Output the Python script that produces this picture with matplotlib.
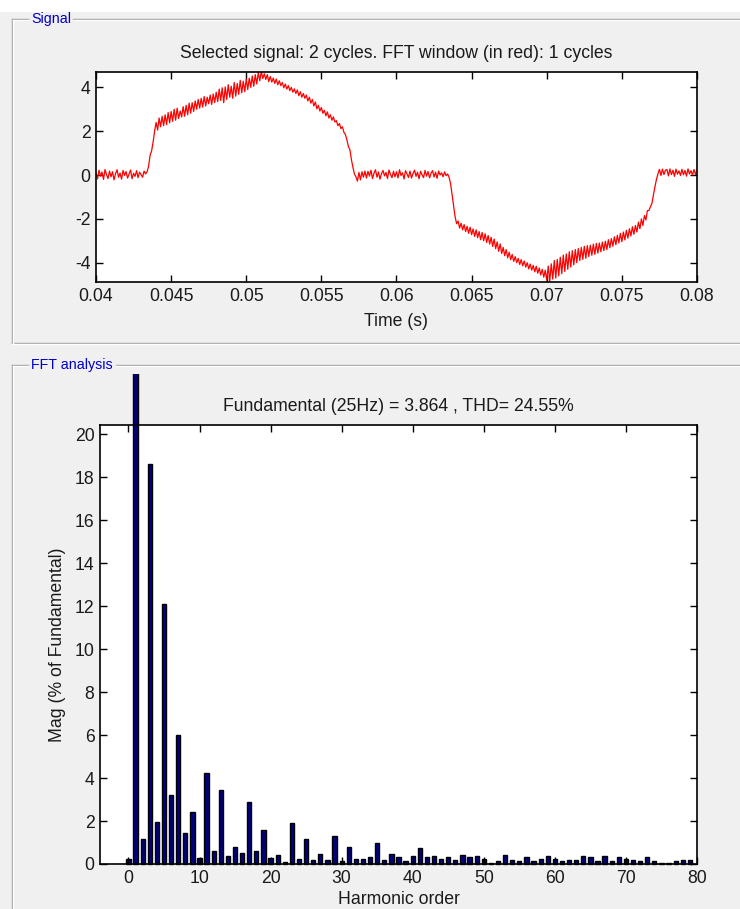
import matplotlib
matplotlib.use("Agg")
import matplotlib.pyplot as plt
import numpy as np
from matplotlib.lines import Line2D
from matplotlib.patches import Rectangle
from matplotlib.transforms import Bbox, TransformedBbox

plt.rcParams['font.family'] = ['Liberation Sans', 'DejaVu Sans']
plt.rcParams['axes.unicode_minus'] = False

# ---- data ----
# signal samples every 0.1 ms from 0.040 s to 0.080 s (one row = 2 ms)
t_start, t_step = 0.04, 0.0001
signal = [
    0.08, -0.18, 0.22, -0.05, 0.14, -0.20, 0.25, 0.02, -0.16, 0.18, -0.08, 0.15, -0.22, 0.06, 0.24, -0.10, 0.09, -0.19, 0.21, -0.02,
    0.16, -0.14, 0.04, 0.23, -0.17, 0.08, -0.06, 0.20, -0.12, 0.13, 0.02, -0.10, 0.18, 0.05, 0.15, 0.40, 0.90, 1.10, 1.50, 2.00,
    2.40, 2.05, 2.60, 2.20, 2.68, 2.25, 2.75, 2.30, 2.85, 2.38, 2.90, 2.45, 3.00, 2.50, 3.05, 2.58, 2.92, 2.65, 3.12, 2.68,
    3.18, 2.75, 3.28, 2.82, 3.30, 2.90, 3.38, 3.00, 3.45, 3.05, 3.50, 3.10, 3.58, 3.15, 3.55, 3.25, 3.65, 3.22, 3.70, 3.30,
    3.78, 3.35, 3.92, 3.40, 3.98, 3.30, 4.02, 3.45, 4.12, 3.55, 4.05, 3.50, 4.22, 3.60, 4.18, 3.68, 4.32, 3.75, 4.28, 3.80,
    4.38, 3.90, 4.42, 4.00, 4.52, 4.05, 4.58, 4.15, 4.68, 4.30, 4.72, 4.40, 4.62, 4.36, 4.58, 4.26, 4.50, 4.24, 4.42, 4.18,
    4.38, 4.12, 4.30, 4.08, 4.22, 3.98, 4.15, 3.92, 4.08, 3.85, 4.00, 3.78, 3.93, 3.72, 3.88, 3.62, 3.80, 3.55, 3.72, 3.50,
    3.65, 3.38, 3.55, 3.28, 3.45, 3.15, 3.33, 3.02, 3.18, 2.92, 3.08, 2.82, 2.95, 2.70, 2.88, 2.60, 2.75, 2.50, 2.65, 2.42,
    2.48, 2.25, 2.35, 2.12, 2.20, 1.95, 1.85, 1.60, 1.30, 1.15, 0.70, 0.35, 0.05, -0.08, -0.28, 0.12, -0.22, 0.15, -0.10, 0.18,
    -0.14, 0.17, -0.05, 0.22, -0.16, 0.08, 0.24, -0.10, 0.14, -0.19, 0.06, 0.21, -0.04, 0.12, -0.16, 0.23, 0.02, -0.12, 0.17, -0.08,
    0.15, -0.13, 0.24, -0.02, 0.10, -0.18, 0.20, 0.04, -0.11, 0.18, -0.14, 0.07, 0.22, -0.06, 0.13, -0.17, 0.17, 0.01, -0.12, 0.21,
    -0.05, 0.16, -0.13, 0.08, 0.20, -0.09, 0.13, -0.15, 0.18, 0.00, 0.10, -0.08, 0.14, -0.03, 0.05, -0.10, -0.40, -0.90, -1.40, -1.90,
    -2.22, -2.10, -2.42, -2.20, -2.50, -2.26, -2.58, -2.34, -2.66, -2.38, -2.72, -2.46, -2.80, -2.50, -2.86, -2.58, -2.95, -2.62, -3.00, -2.68,
    -3.08, -2.76, -3.15, -2.84, -3.26, -2.92, -3.36, -3.05, -3.48, -3.14, -3.58, -3.30, -3.68, -3.40, -3.78, -3.52, -3.86, -3.62, -3.94, -3.72,
    -4.00, -3.80, -4.08, -3.86, -4.14, -3.92, -4.20, -4.00, -4.28, -4.06, -4.34, -4.12, -4.42, -4.16, -4.48, -4.24, -4.56, -4.30, -4.66, -4.34,
    -4.80, -4.15, -4.85, -4.05, -4.75, -3.90, -4.70, -3.85, -4.60, -3.75, -4.50, -3.65, -4.40, -3.60, -4.30, -3.50, -4.20, -3.45, -4.10, -3.40,
    -4.00, -3.35, -3.90, -3.30, -3.85, -3.25, -3.80, -3.22, -3.72, -3.20, -3.66, -3.15, -3.62, -3.12, -3.56, -3.10, -3.50, -3.06, -3.45, -3.02,
    -3.40, -2.95, -3.32, -2.90, -3.25, -2.82, -3.18, -2.75, -3.10, -2.66, -3.04, -2.60, -2.96, -2.52, -2.88, -2.45, -2.78, -2.36, -2.70, -2.30,
    -2.60, -2.15, -2.45, -2.00, -2.30, -1.85, -2.05, -1.62, -1.62, -1.45, -1.30, -0.90, -0.55, -0.20, 0.05, 0.26, -0.02, 0.27, 0.02, 0.22,
    0.25, -0.04, 0.28, 0.02, 0.22, -0.06, 0.27, 0.04, 0.19, -0.02, 0.26, 0.01, 0.21, -0.05, 0.28, 0.05, 0.20, 0.00, 0.25, 0.03,
    0.22,
]
time = t_start + t_step * np.arange(len(signal))

# harmonic magnitudes, % of fundamental, orders 0..79
harmonic_order = np.arange(80)
mag = [
    0.25, 100.0, 1.15, 18.6, 1.95, 12.1, 3.2, 6.0, 1.45, 2.4,
    0.3, 4.25, 0.6, 3.45, 0.35, 0.8, 0.5, 2.9, 0.6, 1.6,
    0.3, 0.4, 0.08, 1.9, 0.25, 1.15, 0.19, 0.45, 0.19, 1.28,
    0.15, 0.77, 0.25, 0.25, 0.33, 0.97, 0.2, 0.45, 0.33, 0.14,
    0.37, 0.75, 0.31, 0.37, 0.22, 0.31, 0.19, 0.44, 0.31, 0.37,
    0.25, 0.06, 0.16, 0.44, 0.19, 0.16, 0.31, 0.13, 0.25, 0.37,
    0.25, 0.13, 0.19, 0.19, 0.37, 0.31, 0.16, 0.37, 0.13, 0.31,
    0.25, 0.19, 0.13, 0.31, 0.13, 0.06, 0.06, 0.13, 0.19, 0.19,
]

signal_title = "Selected signal: 2 cycles. FFT window (in red): 1 cycles"
fft_title = "Fundamental (25Hz) = 3.864 , THD= 24.55%"

W, H = 740, 909
BG = '#f0f0f0'
FS = 12.7
TXT = '#1a1a1a'
fig = plt.figure(figsize=(W / 100, H / 100), dpi=100, facecolor=BG)


def fx(px):
    return px / W


def fy(py):
    return 1 - py / H


def hline(x0, x1, y, c):
    fig.add_artist(Line2D([fx(x0), fx(x1)], [fy(y), fy(y)], color=c, lw=1,
                          transform=fig.transFigure))


def vline(x, y0, y1, c):
    fig.add_artist(Line2D([fx(x), fx(x)], [fy(y0), fy(y1)], color=c, lw=1,
                          transform=fig.transFigure))


# white strip at the very top of the screenshot
fig.add_artist(Rectangle((0, fy(11)), 1, 11 / H, color='white',
                         transform=fig.transFigure, zorder=0))

# group boxes (etched look)
for top, bottom, label, gap in [(19, 343, "Signal", (28, 73)),
                               (365, 920, "FFT analysis", (28, 116))]:
    for off, c in [(0, '#a0a0a0'), (1, 'white')]:
        hline(12 + off, gap[0], top + off, c)
        hline(gap[1], 745, top + off, c)
        vline(12 + off, top + off, bottom, c)
        if bottom < H:
            hline(12, 745, bottom + off, c)
    fig.text(fx(31), fy(top), label, color='#0000c8', fontsize=10.3,
             ha='left', va='center')


def matlab_axes(ax):
    ax.set_facecolor('white')
    ax.tick_params(direction='in', length=5, width=1, top=True, right=True,
                   labelsize=FS, colors='black', labelcolor=TXT, pad=4)
    for s in ax.spines.values():
        s.set_linewidth(1.2)
        s.set_color('black')


# ---- signal axes ----
ax1 = fig.add_axes([fx(96), fy(282), (697 - 96) / W, (282 - 72) / H])
ax1.plot(time, signal, color='red', lw=0.9)
ax1.set_xlim(0.04, 0.08)
ax1.set_ylim(-4.88, 4.7)
ax1.set_xticks(np.arange(0.04, 0.0801, 0.005))
ax1.set_xticklabels(['0.04', '0.045', '0.05', '0.055', '0.06', '0.065',
                     '0.07', '0.075', '0.08'])
ax1.set_yticks([-4, -2, 0, 2, 4])
matlab_axes(ax1)
ax1.set_xlabel("Time (s)", fontsize=FS, color=TXT, labelpad=6)
ax1.set_title(signal_title, fontsize=FS, color=TXT, pad=10)

# ---- FFT axes ----
ax2 = fig.add_axes([fx(100), fy(864), (697 - 100) / W, (864 - 425) / H])
bars = ax2.bar(harmonic_order, mag, width=0.6, color='#00007f',
               edgecolor='black', linewidth=1)
clip = TransformedBbox(Bbox([[0, 0], [1, fy(374)]]), fig.transFigure)
for b in bars:
    b.set_clip_box(clip)
ax2.set_xlim(-4, 80)
ax2.set_ylim(0, 20.42)
ax2.set_xticks(np.arange(0, 81, 10))
ax2.set_yticks(np.arange(0, 21, 2))
matlab_axes(ax2)
ax2.set_xlabel("Harmonic order", fontsize=FS, color=TXT, labelpad=3)
ax2.set_ylabel("Mag (% of Fundamental)", fontsize=FS, color=TXT,
               labelpad=6)
ax2.set_title(fft_title, fontsize=FS, color=TXT, pad=10)

fig.savefig("out.png", dpi=100, facecolor=BG)
